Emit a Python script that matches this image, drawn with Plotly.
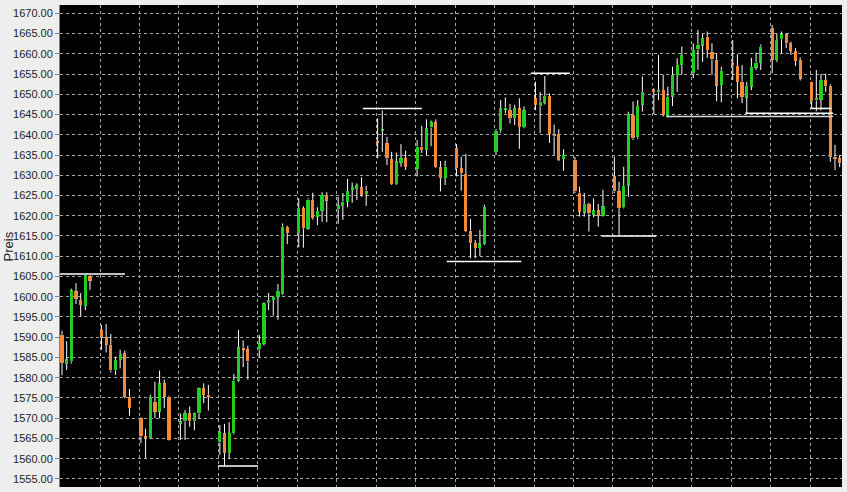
import plotly.graph_objects as go

# ---- data ----
session_hours = [9, 10, 11, 12, 13, 14, 15]
n_sessions = 20
session_span = 8.452  # axis units per trading session (bars + overnight gap)

opens = [
    1590.6, 1583.4, 1584.0, 1601.3, 1599.2, 1597.7, 1605.0,
    1591.8, 1590.0, 1588.1, 1581.8, 1584.4, 1586.1, 1575.3,
    1570.0, 1565.5, 1565.0, 1574.0, 1571.6, 1578.6, 1575.3,
    1568.6, 1569.2, 1571.2, 1569.2, 1571.2, 1577.4, 1575.8,
    1564.0, 1566.3, 1561.4, 1566.3, 1579.3, 1587.4, 1587.0,
    1587.0, 1588.4, 1598.4, 1599.2, 1600.0, 1600.7, 1617.2,
    1615.7, 1621.9, 1616.7, 1623.9, 1619.8, 1621.2, 1625.1,
    1621.6, 1622.4, 1623.5, 1626.4, 1626.7, 1627.0, 1625.4,
    1638.3, 1641.0, 1637.9, 1634.0, 1627.8, 1633.1, 1634.2,
    1631.6, 1637.1, 1636.2, 1641.8, 1643.1, 1632.0, 1629.3,
    1636.7, 1631.7, 1630.3, 1616.3, 1613.2, 1612.0, 1613.0,
    1635.8, 1641.2, 1646.3, 1646.1, 1644.1, 1646.5, 1641.9,
    1649.0, 1647.0, 1647.9, 1649.6, 1640.2, 1640.2, 1634.0,
    1633.8, 1625.7, 1620.8, 1622.9, 1620.2, 1621.3, 1620.0,
    1629.8, 1626.0, 1622.1, 1627.4, 1644.9, 1639.4, 1647.4,
    1651.0, 1650.5, 1651.0, 1644.5, 1649.4, 1654.8, 1657.2,
    1655.2, 1661.1, 1662.0, 1664.2, 1660.5, 1658.5, 1652.3,
    1657.6, 1657.0, 1653.1, 1649.2, 1651.9, 1656.6, 1657.8,
    1666.4, 1658.5, 1663.6, 1664.8, 1662.7, 1660.7, 1658.5,
    1653.0, 1648.5, 1648.7, 1653.5, 1652.1, 1634.6, 1634.2,
]
highs = [
    1591.6, 1589.0, 1602.0, 1603.3, 1600.9, 1605.4, 1605.3,
    1593.0, 1593.3, 1590.8, 1585.2, 1586.9, 1586.7, 1577.2,
    1570.2, 1567.4, 1575.8, 1579.0, 1581.8, 1579.5, 1575.5,
    1571.2, 1572.0, 1572.9, 1571.4, 1577.6, 1578.6, 1578.2,
    1568.3, 1568.6, 1569.0, 1580.9, 1591.8, 1589.2, 1587.9,
    1590.6, 1598.6, 1600.9, 1600.2, 1603.1, 1618.1, 1617.5,
    1624.3, 1622.3, 1624.3, 1625.7, 1622.1, 1625.8, 1625.8,
    1624.7, 1625.6, 1629.1, 1628.2, 1628.0, 1629.5, 1627.4,
    1644.1, 1646.0, 1639.5, 1635.8, 1635.6, 1637.7, 1636.1,
    1638.7, 1642.2, 1643.8, 1643.5, 1643.8, 1633.5, 1633.6,
    1637.7, 1634.6, 1635.3, 1619.2, 1614.0, 1616.5, 1622.7,
    1641.4, 1648.6, 1649.2, 1647.6, 1647.4, 1649.0, 1647.0,
    1653.1, 1650.6, 1654.5, 1650.2, 1642.5, 1641.4, 1636.4,
    1634.5, 1627.2, 1625.6, 1623.2, 1624.3, 1622.9, 1626.4,
    1634.6, 1628.4, 1632.1, 1645.7, 1648.2, 1648.6, 1654.4,
    1651.5, 1659.7, 1654.8, 1651.9, 1656.8, 1658.9, 1661.8,
    1662.6, 1665.9, 1664.9, 1665.5, 1662.6, 1660.1, 1656.8,
    1663.4, 1659.9, 1657.2, 1653.0, 1659.0, 1660.3, 1662.3,
    1667.1, 1665.0, 1665.5, 1665.1, 1663.0, 1661.4, 1659.1,
    1653.1, 1656.0, 1655.1, 1655.1, 1652.5, 1637.5, 1635.0,
]
lows = [
    1580.6, 1581.9, 1583.5, 1598.2, 1595.1, 1596.7, 1601.7,
    1586.9, 1586.2, 1581.3, 1580.7, 1582.3, 1574.9, 1570.6,
    1563.8, 1560.1, 1564.8, 1570.0, 1570.0, 1572.5, 1564.5,
    1564.6, 1564.6, 1567.9, 1567.0, 1569.8, 1573.7, 1571.9,
    1560.9, 1558.1, 1559.9, 1566.0, 1579.0, 1582.6, 1579.5,
    1585.0, 1588.0, 1596.7, 1595.3, 1594.3, 1600.5, 1613.0,
    1612.2, 1612.1, 1616.5, 1619.0, 1617.7, 1618.5, 1618.4,
    1618.0, 1619.0, 1622.1, 1623.2, 1623.9, 1624.7, 1622.4,
    1634.2, 1635.8, 1632.5, 1627.6, 1627.6, 1632.1, 1631.3,
    1629.7, 1635.5, 1635.0, 1637.2, 1631.8, 1626.0, 1627.6,
    1629.7, 1626.2, 1616.0, 1609.5, 1609.5, 1610.0, 1612.8,
    1635.0, 1640.5, 1645.3, 1642.8, 1642.4, 1636.5, 1641.6,
    1646.1, 1640.4, 1647.5, 1638.0, 1635.0, 1633.5, 1631.1,
    1625.6, 1619.8, 1619.8, 1616.1, 1619.6, 1617.3, 1619.8,
    1625.6, 1615.3, 1621.8, 1624.7, 1638.7, 1639.0, 1645.7,
    1645.1, 1648.6, 1644.5, 1644.3, 1647.1, 1650.6, 1654.8,
    1654.0, 1656.0, 1658.0, 1659.0, 1654.8, 1648.3, 1648.0,
    1653.5, 1649.0, 1647.8, 1645.1, 1651.0, 1656.0, 1656.0,
    1655.2, 1658.0, 1660.1, 1661.4, 1659.7, 1657.0, 1653.4,
    1646.5, 1645.8, 1646.0, 1650.6, 1633.3, 1631.3, 1632.0,
]
closes = [
    1583.6, 1584.5, 1601.6, 1599.4, 1598.0, 1605.3, 1604.0,
    1590.0, 1588.1, 1581.8, 1584.4, 1585.8, 1575.3, 1572.5,
    1565.5, 1565.0, 1575.2, 1571.6, 1578.6, 1575.3, 1564.6,
    1569.2, 1571.2, 1569.2, 1571.2, 1577.4, 1575.8, 1575.3,
    1566.5, 1561.4, 1566.3, 1579.3, 1587.5, 1587.0, 1584.0,
    1588.5, 1598.4, 1599.2, 1600.0, 1601.5, 1617.3, 1615.7,
    1621.9, 1616.9, 1624.0, 1619.4, 1621.2, 1625.1, 1623.7,
    1622.6, 1623.5, 1626.1, 1627.1, 1627.5, 1625.1, 1626.2,
    1638.0, 1641.3, 1634.2, 1627.8, 1633.4, 1634.2, 1632.0,
    1637.1, 1636.2, 1641.6, 1643.1, 1632.0, 1629.3, 1632.1,
    1631.7, 1630.5, 1616.3, 1613.2, 1612.0, 1613.2, 1622.2,
    1641.0, 1646.5, 1646.7, 1644.1, 1646.5, 1641.9, 1646.0,
    1647.4, 1648.2, 1649.6, 1640.2, 1639.6, 1633.8, 1635.0,
    1626.0, 1621.0, 1622.9, 1620.6, 1621.3, 1620.0, 1622.3,
    1626.0, 1621.9, 1627.4, 1645.1, 1639.1, 1647.1, 1650.6,
    1650.6, 1651.0, 1644.9, 1649.4, 1654.8, 1657.2, 1659.7,
    1660.9, 1662.2, 1663.9, 1660.9, 1658.6, 1652.1, 1655.8,
    1657.3, 1653.1, 1649.4, 1652.1, 1656.8, 1657.8, 1661.8,
    1658.5, 1663.4, 1664.8, 1662.6, 1660.7, 1658.2, 1653.8,
    1648.3, 1649.0, 1653.5, 1652.0, 1634.6, 1634.0, 1633.0,
]

# support / resistance levels: price, start, end (axis units)
level_prices = [1605.6, 1558.2, 1646.5, 1608.7, 1655.2, 1615.0, 1644.5, 1645.3, 1646.5]
level_starts = [-0.5, 33.4, 64.45, 82.4, 100.4, 115.6, 129.5, 146.4, 160.5]
level_ends = [13.5, 42.0, 77.1, 98.4, 108.8, 127.3, 165.2, 165.2, 164.8]
level_colors = ["#ffffff", "#ffffff", "#ffffff", "#ffffff", "#ffffff",
                "#ffffff", "#d8d8d8", "#ffffff", "#ffffff"]

y_ticks = list(range(1555, 1671, 5))

# ---- build ----
x_pos = [d * session_span + (h - session_hours[0])
         for d in range(n_sessions) for h in session_hours]

GREEN = "#22cc22"
ORANGE = "#f28a3c"

body_lo = [min(o, c) for o, c in zip(opens, closes)]
body_hi = [max(o, c) for o, c in zip(opens, closes)]
body_h = [max(hi - lo, 0.3) for lo, hi in zip(body_lo, body_hi)]
body_col = [GREEN if c >= o else ORANGE for o, c in zip(opens, closes)]

wx, wy = [], []
for x, h, l, lo, hi in zip(x_pos, highs, lows, body_lo, body_hi):
    if h > hi:
        wx += [x, x, None]
        wy += [hi, h, None]
    if l < lo:
        wx += [x, x, None]
        wy += [l, lo, None]

fig = go.Figure()
fig.add_trace(go.Bar(x=x_pos, y=body_h, base=body_lo, width=0.68,
                     marker=dict(color=body_col, line=dict(width=0)),
                     hoverinfo="skip"))
fig.add_trace(go.Scatter(x=wx, y=wy, mode="lines",
                         line=dict(color="#ffffff", width=1),
                         hoverinfo="skip"))
for p, s, e, c in zip(level_prices, level_starts, level_ends, level_colors):
    fig.add_trace(go.Scatter(x=[s, e], y=[p, p], mode="lines",
                             line=dict(color=c, width=1.6),
                             hoverinfo="skip"))

fig.update_layout(
    width=847, height=492,
    margin=dict(l=60, r=5, t=5, b=5),
    paper_bgcolor="#eeeeee",
    plot_bgcolor="#000000",
    showlegend=False,
    bargap=0,
    xaxis=dict(range=[-0.43, 167.09], showticklabels=False, ticks="",
               tick0=-0.31, dtick=session_span, showgrid=True,
               gridcolor="#a8a8a8", griddash="3px,3px", gridwidth=1,
               zeroline=False, showline=False),
    yaxis=dict(range=[1553.0, 1672.05], tickmode="array", tickvals=y_ticks,
               tickformat=".2f", ticks="outside", ticklen=4,
               tickcolor="#808080", showgrid=True, gridcolor="#a8a8a8",
               griddash="3px,3px", gridwidth=1, zeroline=False,
               showline=True, linecolor="#808080", linewidth=1,
               tickfont=dict(family="Liberation Sans, Arial, sans-serif",
                             size=11, color="#222222")),
    annotations=[dict(text="Preis", xref="paper", yref="paper",
                      x=-0.066, y=0.5, xanchor="center", yanchor="middle",
                      textangle=-90, showarrow=False,
                      font=dict(family="Liberation Sans, Arial, sans-serif",
                                size=13, color="#222222"))],
)

fig.write_html(
    "out.html",
    config={"displayModeBar": False},
    post_script=(
        "document.body.style.margin='0';"
        "document.body.style.overflow='hidden';"
        "document.documentElement.style.overflow='hidden';"
    ),
)
